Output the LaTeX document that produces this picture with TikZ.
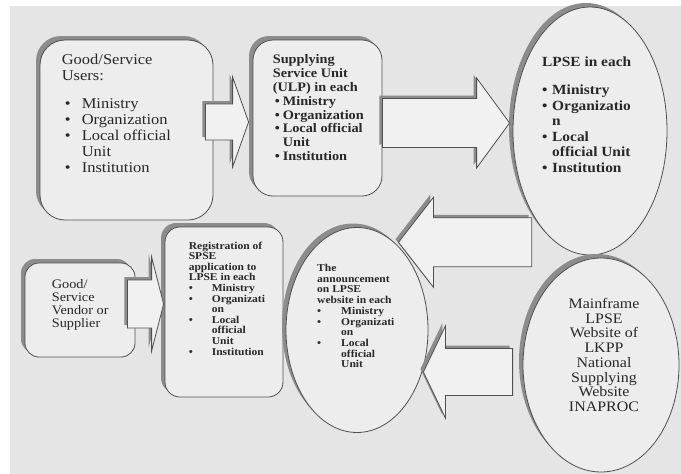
\documentclass[tikz,border=0pt]{standalone}
\usepackage{fontspec}
\setmainfont{Liberation Serif}[FakeStretch=1.1]
\usetikzlibrary{shapes.geometric,shadows,calc,positioning}

\definecolor{bggray}{RGB}{229,229,229}
\definecolor{shapefill}{RGB}{237,237,237}
\definecolor{arrowfill}{RGB}{241,241,241}
\definecolor{edgegray}{RGB}{80,80,80}
\definecolor{shadowgray}{RGB}{140,140,140}
\definecolor{textgray}{RGB}{40,40,40}

% bullet of a given width
\newcommand{\itm}[1]{\makebox[#1][l]{\textbullet}}

\tikzset{
  flowbox/.style={draw=edgegray, fill=shapefill, line width=0.8pt, inner sep=0pt,
    drop shadow={shadow xshift=-4pt, shadow yshift=4pt, fill=shadowgray, opacity=1}},
  ovalbox/.style={flowbox, ellipse},
  boxtext/.style={anchor=north west, inner sep=0pt, align=left, text=textgray},
  % #1 shaft half width, #2 head half width, #3 head length
  fatarrow/.style n args={3}{draw=edgegray, fill=arrowfill, line width=0.8pt,
    drop shadow={shadow xshift=-3pt, shadow yshift=3pt, fill=shadowgray, opacity=1},
    to path={let \p1=(\tikztostart), \p2=(\tikztotarget), \n1={ifthenelse(\x2>\x1,1,-1)} in
      ({\x1},{\y1+#1}) -- ({\x2-(\n1)*#3},{\y1+#1}) -- ({\x2-(\n1)*#3},{\y1+#2})
      -- ({\x2},{\y1}) -- ({\x2-(\n1)*#3},{\y1-#2}) -- ({\x2-(\n1)*#3},{\y1-#1})
      -- ({\x1},{\y1-#1}) -- cycle}},
}

\begin{document}
\begin{tikzpicture}[x=1pt,y=-1pt]
  \useasboundingbox (0,0) rectangle (681,474);
  \fill[bggray] (10,6) rectangle (681,474);

  %% Shapes
  \node[flowbox, rounded corners=25pt, minimum width=173pt, minimum height=180pt] (users) at (126.5,130) {};
  \node[flowbox, rounded corners=20pt, minimum width=129pt, minimum height=156pt] (ulp) at (317.5,118) {};
  \node[ovalbox, minimum width=154pt, minimum height=248pt] (lpse) at (590,131) {};
  \node[flowbox, rounded corners=14pt, minimum width=110pt, minimum height=94pt] (vendor) at (80,310) {};
  \node[flowbox, rounded corners=15pt, minimum width=118pt, minimum height=170pt] (regist) at (224,312) {};
  \node[ovalbox, minimum width=142pt, minimum height=205pt] (announce) at (357,330) {};
  \node[ovalbox, minimum width=156pt, minimum height=214pt] (inaproc) at (601,365) {};

  %% Block arrows
  \draw[fatarrow={18pt}{45pt}{16pt}] ([xshift=-8pt,yshift=8pt]users.east) to ([xshift=-4pt]ulp.west);
  \draw[fatarrow={24.5pt}{45pt}{33pt}] ([yshift=-5pt]ulp.east) to ([xshift=-3pt]lpse.west);
  \draw[fatarrow={24.5pt}{45pt}{35pt}] ([xshift=-3.6pt,yshift=-23.3pt]lpse.south west) to ([xshift=-9pt]announce.north east);
  \draw[fatarrow={23.5pt}{46pt}{22pt}] ([xshift=-10pt,yshift=-7pt]inaproc.west) to ([xshift=-5pt]announce.east);
  \draw[fatarrow={24pt}{47pt}{12pt}] ([xshift=-8pt,yshift=6pt]vendor.east) to ([xshift=-1pt]regist.west);

  %% Texts
  \node[boxtext, font=\fontsize{15}{16}\selectfont] (userstxt) at ([xshift=22pt,yshift=-14pt]users.north west)
    {Good/Service\\
     Users:\\[12pt]
     \hspace*{3pt}\itm{17pt}Ministry\\
     \hspace*{3pt}\itm{17pt}Organization\\
     \hspace*{3pt}\itm{17pt}Local official\\
     \hspace*{20pt}Unit\\
     \hspace*{3pt}\itm{17pt}Institution};
  \node[boxtext, font=\fontsize{13}{13.8}\selectfont\bfseries] (ulptxt) at ([xshift=20pt,yshift=-15pt]ulp.north west)
    {Supplying\\
     Service Unit\\
     (ULP) in each\\
     \hspace*{2pt}\itm{8pt}Ministry\\
     \hspace*{2pt}\itm{8pt}Organization\\
     \hspace*{2pt}\itm{8pt}Local official\\
     \hspace*{10pt}Unit\\
     \hspace*{2pt}\itm{8pt}Institution};
  \node[boxtext, font=\fontsize{14}{15.5}\selectfont\bfseries] (lpsetxt) at ([xshift=-48pt,yshift=-50pt]lpse.north)
    {LPSE in each\\[12.5pt]
     \itm{10pt}Ministry\\
     \itm{10pt}Organizatio\\
     \hspace*{10pt}n\\
     \itm{10pt}Local\\
     \hspace*{10pt}official Unit\\
     \itm{10pt}Institution};
  \node[boxtext, font=\fontsize{13}{13}\selectfont] (vendortxt) at ([xshift=27pt,yshift=-17pt]vendor.north west)
    {Good/\\
     Service\\
     Vendor or\\
     Supplier};
  \node[boxtext, font=\fontsize{10.5}{10.6}\selectfont\bfseries] (registtxt) at ([xshift=24pt,yshift=-15pt]regist.north west)
    {Registration of\\
     SPSE\\
     application to\\
     LPSE in each\\
     \itm{23pt}Ministry\\
     \itm{23pt}Organizati\\
     \hspace*{23pt}on\\
     \itm{23pt}Local\\
     \hspace*{23pt}official\\
     \hspace*{23pt}Unit\\
     \itm{23pt}Institution};
  \node[boxtext, font=\fontsize{10.5}{10.7}\selectfont\bfseries] (announcetxt) at ([xshift=-40pt,yshift=-37pt]announce.north)
    {The\\
     announcement\\
     on LPSE\\
     website in each\\
     \itm{24pt}Ministry\\
     \itm{24pt}Organizati\\
     \hspace*{24pt}on\\
     \itm{24pt}Local\\
     \hspace*{24pt}official\\
     \hspace*{24pt}Unit};
  \node[inner sep=0pt, align=center, text=textgray, font=\fontsize{14.5}{14.7}\selectfont] (inaproctxt) at ([xshift=3pt,yshift=10pt]inaproc.center)
    {Mainframe\\
     LPSE\\
     Website of\\
     LKPP\\
     National\\
     Supplying\\
     Website\\
     INAPROC};
\end{tikzpicture}
\end{document}
